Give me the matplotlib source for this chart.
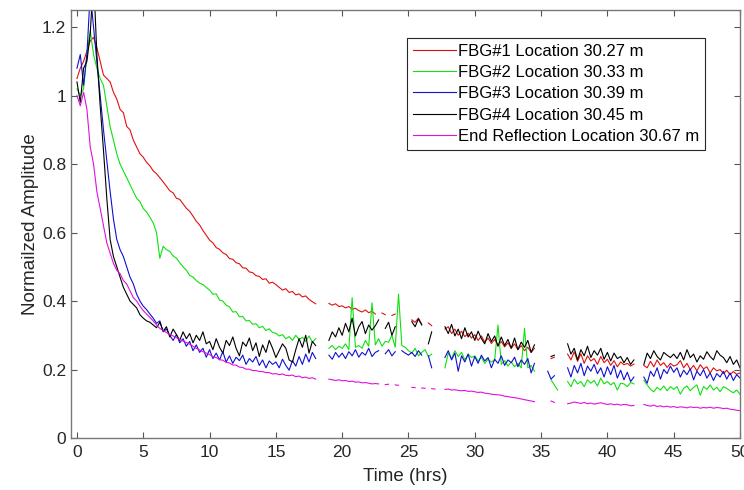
import numpy as np
import matplotlib
matplotlib.use("Agg")
import matplotlib.pyplot as plt

nan = np.nan

# time axis, one reading every 15 min
hours = np.arange(0, 50.01, 0.25)

# values, 20 per line = 5 hrs per line
fbg1 = [1.05, 1.08, 1.10, 1.13, 1.16, 1.17, 1.14, 1.10, 1.06, 1.05, 1.04, 1.01, 0.99, 0.96, 0.95, 0.91, 0.90, 0.87, 0.85, 0.83,
        0.820, 0.805, 0.795, 0.780, 0.772, 0.760, 0.748, 0.735, 0.722, 0.716, 0.700, 0.697, 0.684, 0.671, 0.662, 0.648, 0.633, 0.622, 0.606, 0.592,
        0.578, 0.570, 0.556, 0.551, 0.541, 0.536, 0.524, 0.522, 0.512, 0.509, 0.497, 0.496, 0.485, 0.483, 0.474, 0.472, 0.463, 0.465, 0.452, 0.455,
        0.448, 0.440, 0.432, 0.436, 0.425, 0.428, 0.418, 0.421, 0.412, 0.415, 0.405, 0.398, 0.392, nan, nan, nan, 0.393, 0.388, 0.392, 0.384,
        0.386, 0.380, 0.384, 0.376, 0.379, 0.372, 0.368, 0.374, 0.366, 0.370, 0.362, nan, 0.365, 0.360, nan, 0.358, 0.362, nan, nan, nan,
        nan, 0.345, 0.338, 0.350, 0.332, nan, 0.336, 0.328, nan, nan, nan, 0.318, 0.325, 0.305, 0.318, 0.300, 0.312, 0.296, 0.306, 0.292,
        0.302, 0.285, 0.298, 0.280, 0.292, 0.276, 0.288, 0.270, 0.282, 0.266, 0.278, 0.262, 0.275, 0.258, 0.270, 0.255, 0.265, 0.250, 0.262, nan,
        nan, nan, nan, 0.232, 0.236, nan, nan, nan, 0.245, 0.228, 0.252, 0.224, 0.246, 0.218, 0.240, 0.225, 0.232, 0.215, 0.238, 0.220,
        0.230, 0.212, 0.226, 0.208, 0.222, 0.214, 0.218, 0.210, 0.216, nan, nan, 0.212, 0.205, 0.224, 0.208, 0.228, 0.212, 0.220, 0.206, 0.218,
        0.210, 0.214, 0.226, 0.205, 0.218, 0.200, 0.212, 0.196, 0.214, 0.202, 0.208, 0.190, 0.205, 0.196, 0.200, 0.188, 0.198, 0.185, 0.194, 0.186,
        0.190]

fbg2 = [1.02, 1.00, 1.02, 1.12, 1.19, 1.12, 1.08, 1.05, 1.03, 0.97, 0.91, 0.87, 0.83, 0.80, 0.78, 0.76, 0.74, 0.72, 0.70, 0.69,
        0.670, 0.660, 0.645, 0.628, 0.600, 0.525, 0.560, 0.550, 0.545, 0.532, 0.525, 0.512, 0.500, 0.490, 0.475, 0.470, 0.460, 0.452, 0.448, 0.440,
        0.432, 0.420, 0.421, 0.403, 0.400, 0.388, 0.383, 0.368, 0.369, 0.354, 0.355, 0.342, 0.343, 0.332, 0.334, 0.322, 0.326, 0.314, 0.319, 0.308,
        0.306, 0.298, 0.302, 0.290, 0.296, 0.285, 0.300, 0.288, 0.294, 0.282, 0.298, 0.280, 0.290, nan, nan, nan, 0.262, 0.270, 0.258, 0.268,
        0.262, 0.275, 0.258, 0.410, 0.265, 0.270, 0.262, 0.285, 0.268, 0.395, 0.272, 0.290, 0.268, 0.282, 0.280, 0.300, 0.265, 0.420, 0.270, 0.265,
        0.255, 0.248, 0.262, 0.240, 0.250, 0.258, 0.238, 0.245, nan, nan, nan, 0.205, 0.248, 0.232, 0.255, 0.238, 0.250, 0.228, 0.245, 0.235,
        0.240, 0.225, 0.236, 0.218, 0.230, 0.222, 0.228, 0.330, 0.215, 0.226, 0.210, 0.222, 0.208, 0.218, 0.205, 0.320, 0.205, 0.212, 0.195, nan,
        nan, nan, nan, 0.170, 0.155, 0.140, nan, nan, 0.165, 0.150, 0.172, 0.158, 0.165, 0.150, 0.170, 0.160, 0.168, 0.152, 0.175, 0.158,
        0.165, 0.155, 0.162, 0.140, 0.160, 0.158, 0.150, 0.162, 0.158, nan, nan, 0.168, 0.155, 0.142, 0.135, 0.148, 0.140, 0.152, 0.138, 0.150,
        0.142, 0.150, 0.128, 0.145, 0.152, 0.138, 0.148, 0.155, 0.125, 0.150, 0.142, 0.155, 0.140, 0.148, 0.135, 0.150, 0.145, 0.138, 0.132, 0.140,
        0.128]

fbg3 = [1.08, 1.12, 1.03, 1.12, 1.30, 1.20, 1.10, 1.00, 0.90, 0.81, 0.72, 0.64, 0.58, 0.55, 0.53, 0.50, 0.47, 0.45, 0.42, 0.40,
        0.385, 0.375, 0.362, 0.350, 0.335, 0.342, 0.310, 0.318, 0.300, 0.285, 0.302, 0.278, 0.290, 0.268, 0.282, 0.255, 0.272, 0.250, 0.262, 0.236,
        0.258, 0.232, 0.248, 0.228, 0.252, 0.222, 0.240, 0.218, 0.236, 0.226, 0.242, 0.215, 0.232, 0.222, 0.238, 0.212, 0.228, 0.205, 0.225, 0.215,
        0.222, 0.205, 0.230, 0.212, 0.198, 0.226, 0.210, 0.238, 0.215, 0.245, 0.222, 0.250, 0.232, nan, nan, nan, 0.242, 0.230, 0.250, 0.236,
        0.248, 0.232, 0.252, 0.240, 0.258, 0.236, 0.250, 0.242, 0.262, 0.238, 0.250, 0.255, nan, 0.246, 0.258, 0.240, 0.252, nan, 0.255, 0.248,
        0.242, 0.250, 0.238, 0.255, 0.242, nan, 0.240, 0.205, nan, nan, nan, 0.235, 0.255, 0.228, 0.248, 0.195, 0.240, 0.222, 0.245, 0.210,
        0.238, 0.218, 0.242, 0.225, 0.235, 0.205, 0.230, 0.218, 0.240, 0.212, 0.228, 0.220, 0.236, 0.208, 0.228, 0.215, 0.232, 0.190, 0.218, nan,
        nan, nan, 0.195, 0.172, 0.182, nan, nan, nan, 0.205, 0.178, 0.212, 0.190, 0.218, 0.182, 0.210, 0.195, 0.215, 0.188, 0.205, 0.178,
        0.208, 0.185, 0.212, 0.175, 0.198, 0.170, 0.192, 0.165, 0.178, nan, nan, 0.178, 0.160, 0.195, 0.180, 0.205, 0.172, 0.200, 0.188, 0.210,
        0.192, 0.205, 0.178, 0.198, 0.185, 0.202, 0.170, 0.195, 0.182, 0.200, 0.175, 0.190, 0.168, 0.188, 0.178, 0.195, 0.172, 0.190, 0.168, 0.185,
        0.175]

fbg4 = [1.04, 0.98, 1.08, 1.10, 1.18, 1.35, 1.12, 0.97, 0.84, 0.70, 0.58, 0.53, 0.50, 0.47, 0.44, 0.42, 0.40, 0.39, 0.38, 0.36,
        0.350, 0.342, 0.338, 0.330, 0.322, 0.338, 0.312, 0.325, 0.295, 0.318, 0.302, 0.285, 0.310, 0.290, 0.305, 0.278, 0.300, 0.285, 0.310, 0.275,
        0.282, 0.258, 0.290, 0.265, 0.248, 0.285, 0.270, 0.295, 0.262, 0.240, 0.280, 0.268, 0.292, 0.255, 0.278, 0.238, 0.272, 0.250, 0.285, 0.262,
        0.235, 0.255, 0.275, 0.262, 0.228, 0.222, 0.258, 0.290, 0.265, 0.300, 0.248, 0.282, 0.270, nan, nan, nan, 0.285, 0.310, 0.295, 0.322,
        0.300, 0.335, 0.310, 0.350, 0.298, 0.325, 0.340, 0.305, 0.330, 0.315, 0.328, 0.345, nan, 0.320, 0.338, 0.300, 0.325, nan, nan, nan,
        nan, 0.340, 0.325, 0.348, 0.330, nan, 0.275, 0.310, nan, nan, nan, 0.325, 0.305, 0.332, 0.298, 0.318, 0.290, 0.322, 0.295, 0.310,
        0.285, 0.312, 0.290, 0.275, 0.305, 0.282, 0.298, 0.268, 0.295, 0.270, 0.288, 0.262, 0.292, 0.258, 0.280, 0.265, 0.285, 0.250, 0.272, nan,
        nan, nan, nan, 0.238, 0.242, nan, nan, nan, 0.275, 0.245, 0.262, 0.228, 0.258, 0.240, 0.268, 0.235, 0.255, 0.242, 0.262, 0.230,
        0.250, 0.225, 0.248, 0.232, 0.238, 0.220, 0.235, 0.215, 0.228, nan, nan, 0.215, 0.248, 0.232, 0.255, 0.238, 0.228, 0.250, 0.242, 0.235,
        0.245, 0.232, 0.250, 0.228, 0.258, 0.235, 0.245, 0.222, 0.240, 0.230, 0.252, 0.238, 0.228, 0.255, 0.242, 0.235, 0.220, 0.238, 0.215, 0.228,
        0.205]

end_refl = [1.00, 0.97, 1.01, 0.96, 0.85, 0.80, 0.72, 0.67, 0.62, 0.57, 0.54, 0.51, 0.49, 0.48, 0.46, 0.45, 0.43, 0.41, 0.40, 0.385,
            0.372, 0.362, 0.352, 0.342, 0.330, 0.320, 0.314, 0.308, 0.302, 0.298, 0.293, 0.288, 0.283, 0.279, 0.274, 0.268, 0.262, 0.257, 0.252, 0.248,
            0.244, 0.237, 0.235, 0.229, 0.227, 0.221, 0.219, 0.213, 0.213, 0.207, 0.206, 0.201, 0.201, 0.197, 0.197, 0.194, 0.194, 0.191, 0.191, 0.187,
            0.188, 0.185, 0.187, 0.183, 0.182, 0.184, 0.179, 0.181, 0.176, 0.178, 0.174, 0.176, 0.172, nan, nan, nan, 0.172, 0.170, 0.168, 0.170,
            0.167, 0.168, 0.165, 0.166, 0.163, 0.164, 0.161, 0.162, 0.160, 0.158, 0.159, 0.158, nan, 0.156, 0.157, nan, 0.155, 0.154, nan, nan,
            nan, 0.148, 0.147, nan, 0.146, 0.145, nan, 0.144, 0.143, nan, nan, 0.142, 0.143, 0.140, 0.141, 0.139, 0.138, 0.139, 0.136, 0.137,
            0.135, 0.133, 0.134, 0.131, 0.130, 0.128, 0.127, 0.126, 0.125, 0.122, 0.121, 0.119, 0.118, 0.116, 0.114, 0.112, 0.110, 0.108, 0.106, nan,
            nan, nan, nan, 0.108, 0.104, nan, nan, nan, 0.100, 0.102, 0.105, 0.103, 0.101, 0.104, 0.100, 0.102, 0.099, 0.101, 0.103, 0.100,
            0.098, 0.100, 0.097, 0.099, 0.096, 0.098, 0.097, 0.094, 0.095, nan, nan, 0.098, 0.095, 0.093, 0.096, 0.092, 0.094, 0.091, 0.093, 0.090,
            0.092, 0.089, 0.091, 0.090, 0.088, 0.091, 0.089, 0.090, 0.087, 0.089, 0.088, 0.090, 0.087, 0.089, 0.088, 0.086, 0.087, 0.084, 0.083, 0.081,
            0.080]

labels = ["FBG#1 Location 30.27 m", "FBG#2 Location 30.33 m", "FBG#3 Location 30.39 m",
          "FBG#4 Location 30.45 m", "End Reflection Location 30.67 m"]
colors = ["#e01010", "#10e010", "#1010d0", "#000000", "#e010e0"]

plt.rcParams["font.family"] = ["Liberation Sans", "DejaVu Sans"]

fig = plt.figure(figsize=(7.44, 4.9), dpi=100)
ax = fig.add_axes([71 / 744, 52 / 490, 669 / 744, 428 / 490])

for vals, lab, col in zip([fbg1, fbg2, fbg3, fbg4, end_refl], labels, colors):
    ax.plot(hours, vals, color=col, lw=0.8, label=lab)

ax.set_xlim(-0.45, 50)
ax.set_ylim(0, 1.25)
ax.set_xticks(np.arange(0, 51, 5))
ax.set_yticks([0, 0.2, 0.4, 0.6, 0.8, 1, 1.2])
ax.set_yticklabels(["0", "0.2", "0.4", "0.6", "0.8", "1", "1.2"])
ax.tick_params(direction="in", top=True, right=True, length=4, width=0.8,
               colors="#555555", labelcolor="#262626", labelsize=12.5)
ax.tick_params(axis="x", pad=5)
for s in ax.spines.values():
    s.set_color("#777777")
    s.set_linewidth(1)

ax.set_xlabel("Time (hrs)", fontsize=13.5, color="#262626", labelpad=6)
ax.set_ylabel("Normailzed Amplitude", fontsize=13.5, color="#262626", labelpad=2)

leg = ax.legend(loc="upper right", bbox_to_anchor=(0.948, 0.935), borderaxespad=0,
                fontsize=12, fancybox=False, framealpha=1, edgecolor="#262626",
                handlelength=2.6, handletextpad=0.1, labelspacing=0.38, borderpad=0.35)
leg.get_frame().set_linewidth(0.8)

fig.savefig("out.png", dpi=100)
